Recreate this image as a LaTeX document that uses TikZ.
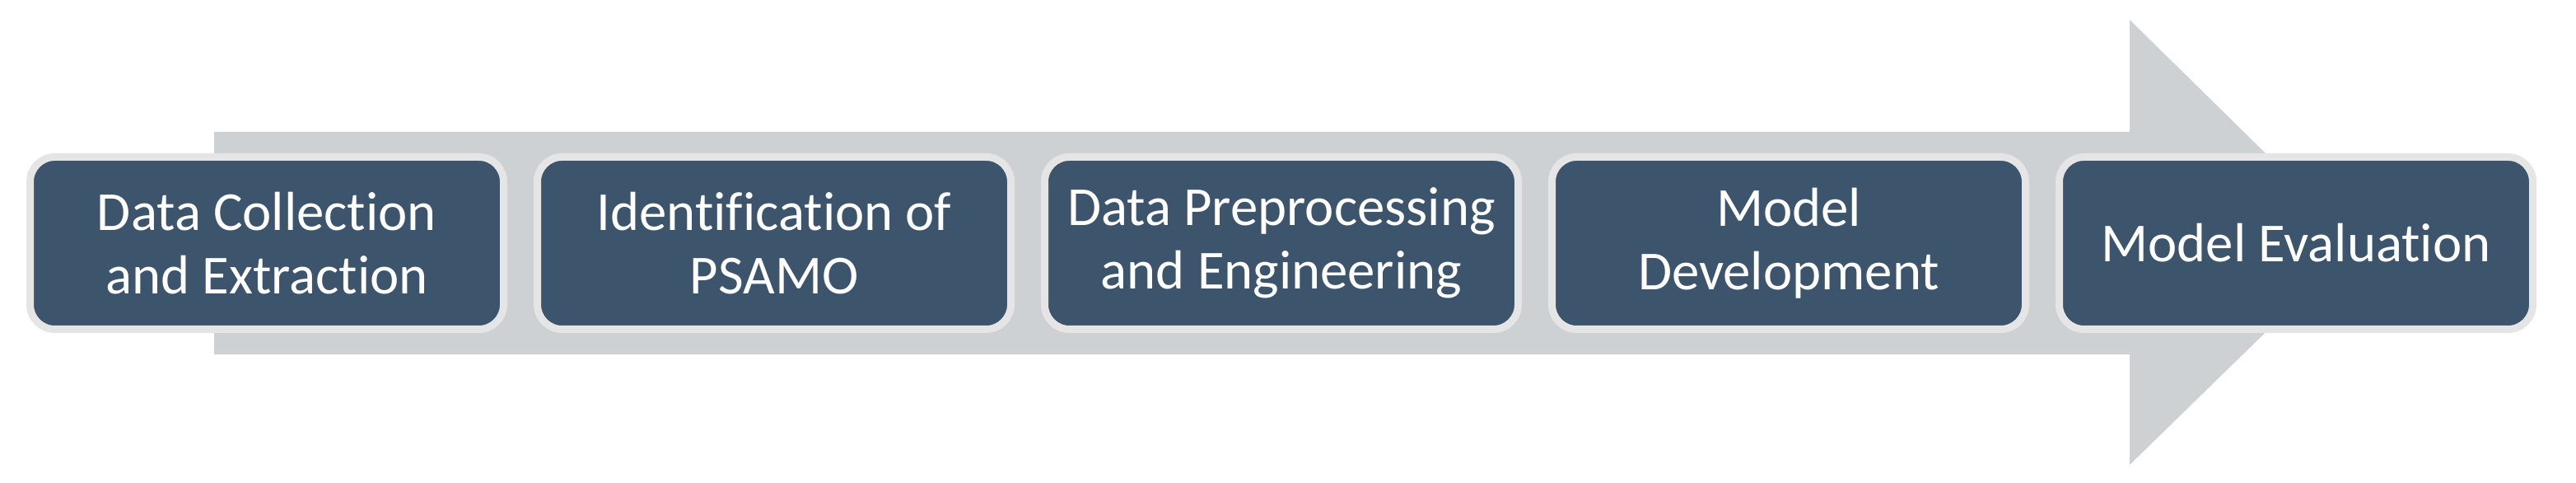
\documentclass[tikz,border=0pt]{standalone}
\usepackage{fontspec}
\setmainfont{Carlito}[RawFeature={-liga;-clig;-dlig;-calt}]
\usetikzlibrary{positioning}
\definecolor{slateblue}{RGB}{60,84,108}
\definecolor{rimgray}{RGB}{229,229,229}
\definecolor{arrowgray}{RGB}{205,209,212}

\begin{document}
\begin{tikzpicture}[
	stage/.style={fill=slateblue,draw=rimgray,line width=0.09cm,rounded corners=0.3cm,
		minimum width=5.75cm,minimum height=2.09cm,text=white,align=center,
		font=\fontsize{19}{21.8}\selectfont},
	node distance=0.32cm]
	\useasboundingbox (0,0) rectangle (31.28,5.86);
	
	%BIG ARROW
	\fill[arrowgray] (2.60,1.56) -- (25.86,1.56) -- (25.86,0.22) -- (28.62,2.91)
		-- (25.86,5.62) -- (25.86,4.26) -- (2.60,4.26) -- cycle;
	
	%STAGES
	\node[stage] (collect) at (3.24,2.91) {Data Collection\\and Extraction};
	\node[stage,right=of collect] (psamo) {Identification of\\PSAMO};
	\node[stage,right=of psamo] (prep) {Data Preprocessing\\and Engineering};
	\node[stage,right=of prep] (develop) {Model\\Development};
	\node[stage,right=of develop] (eval) {Model Evaluation};
\end{tikzpicture}
\end{document}
